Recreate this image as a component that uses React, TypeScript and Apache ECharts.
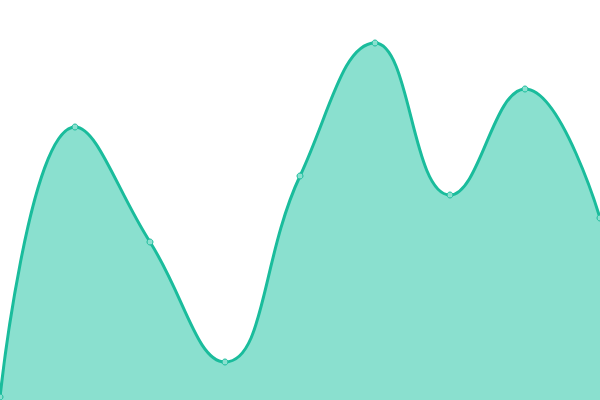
import * as echarts from "echarts";
import { useEffect, useRef } from "react";

const categories = ["1", "2", "3", "4", "5", "6", "7", "8", "9"];
const values = [3, 273, 158, 38, 224, 357, 205, 311, 182];

const lineColor = "#1abc9c";
const areaColor = "#8ae0cf";

export default function App() {
	const chartRef = useRef<HTMLDivElement>(null);

	useEffect(() => {
		if (!chartRef.current) return;
		const chart = echarts.init(chartRef.current, undefined, { renderer: "svg" });

		chart.setOption({
			animation: false,
			grid: { left: 0, right: 0, top: 0, bottom: 0 },
			xAxis: {
				type: "category",
				data: categories,
				boundaryGap: false,
				show: false
			},
			yAxis: {
				type: "value",
				min: 0,
				max: 400,
				show: false
			},
			series: [
				{
					type: "line",
					data: values,
					smooth: 0.45,
					symbol: "circle",
					symbolSize: 6,
					lineStyle: { width: 3, color: lineColor },
					itemStyle: { color: areaColor, borderColor: lineColor, borderWidth: 1 },
					areaStyle: { color: areaColor, opacity: 1 }
				}
			]
		});

		return () => chart.dispose();
	}, []);

	return (
		<div
			ref={chartRef}
			style={{ position: "absolute", left: 0, top: 0, width: 600, height: 400 }}
		/>
	);
}
